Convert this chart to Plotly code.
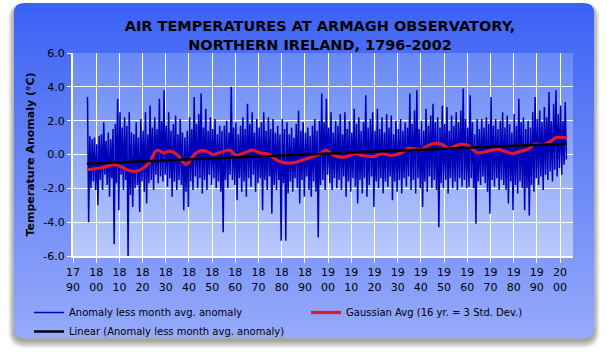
import plotly.graph_objects as go

# ---------------- data ----------------
years = list(range(1796, 2003))

# per-year upper / lower excursion of the monthly anomaly series (deg C)
anomaly_hi = [
    3.4, 1.1, 0.9, 1.0,
    0.6, 1.1, 1.2, 1.9, 0.8, 1.3, 0.9, 1.5, 1.8, 3.3,
    2.5, 1.6, 2.2, 1.7, 2.5, 1.3, 1.2, 1.9, 1.0, 2.1,
    1.4, 2.5, 1.2, 2.9, 1.6, 2.2, 1.5, 3.3, 2.0, 3.8,
    1.7, 2.5, 1.4, 1.8, 2.3, 1.2, 2.1, 1.3, 1.0, 1.4,
    2.2, 1.5, 3.4, 1.8, 2.4, 3.6, 1.6, 2.7, 1.4, 2.2,
    1.5, 2.1, 1.2, 1.7, 1.4, 1.7, 2.0, 1.3, 4.0, 1.6,
    1.9, 1.2, 1.7, 2.2, 1.5, 3.0, 1.8, 2.5, 1.3, 2.1,
    1.6, 1.9, 2.5, 1.4, 2.2, 1.5, 2.1, 1.3, 1.7, 1.2,
    2.1, 1.5, 1.9, 1.2, 1.6, 1.0, 1.8, 2.6, 1.4, 1.9,
    1.3, 1.6, 1.1, 1.7, 2.1, 1.4, 2.0, 3.6, 1.9, 3.3,
    1.6, 2.5, 1.3, 2.0, 1.7, 2.4, 1.2, 2.5, 1.5, 2.0,
    1.3, 2.7, 1.8, 2.2, 1.4, 1.9, 3.5, 1.6, 2.1, 2.5,
    1.4, 2.7, 1.5, 2.2, 1.3, 2.4, 1.6, 2.3, 1.2, 2.0,
    1.5, 2.1, 1.4, 1.9, 1.6, 3.6, 1.8, 2.6, 3.8, 1.5,
    2.0, 1.4, 2.7, 1.7, 2.3, 3.0, 1.9, 2.2, 1.6, 2.9,
    1.8, 2.8, 1.4, 2.3, 1.7, 2.5, 1.9, 2.6, 3.9, 2.1,
    1.6, 3.5, 1.9, 1.2, 2.1, 1.5, 2.1, 1.6, 2.2, 1.8,
    3.4, 1.7, 2.1, 1.5, 2.0, 2.5, 1.6, 2.3, 1.8, 1.3,
    2.4, 1.7, 3.3, 1.9, 2.2, 1.5, 2.0, 1.6, 2.5, 3.4,
    2.1, 2.6, 1.9, 2.8, 2.2, 3.7, 2.0, 3.0, 3.8, 2.4,
    2.9, 2.0, 3.1,
]
anomaly_lo = [
    -4.0, -2.0, -1.6, -2.1,
    -3.0, -1.5, -2.1, -1.2, -1.8, -2.5, -1.4, -5.3, -1.7, -3.3,
    -1.2, -2.1, -1.5, -6.0, -2.4, -3.1, -2.0, -1.8, -3.4, -1.6,
    -2.2, -2.9, -1.7, -1.5, -2.1, -1.2, -1.7, -1.3, -1.6, -1.2,
    -1.9, -1.4, -2.5, -1.6, -2.1, -1.5, -1.8, -3.3, -2.2, -3.1,
    -1.6, -2.1, -1.3, -2.0, -1.4, -2.3, -1.5, -2.1, -1.2, -1.8,
    -1.4, -2.0, -1.6, -2.2, -4.6, -1.5, -2.0, -1.2, -1.5, -1.8,
    -2.7, -1.4, -2.2, -1.6, -2.5, -1.4, -1.9, -1.2, -2.2, -1.7,
    -1.4, -3.3, -1.5, -2.1, -1.3, -3.5, -1.8, -2.1, -1.5, -5.1,
    -1.7, -5.1, -2.3, -1.6, -2.2, -1.4, -2.0, -2.9, -1.5, -2.5,
    -1.3, -2.1, -2.5, -1.6, -2.2, -4.9, -1.8, -1.5, -2.1, -1.2,
    -1.7, -2.1, -1.4, -2.0, -1.5, -2.1, -1.3, -2.5, -1.6, -2.2,
    -1.4, -1.9, -2.9, -1.5, -2.3, -1.4, -2.5, -1.8, -1.3, -3.1,
    -1.6, -2.0, -1.4, -2.3, -1.6, -1.9, -1.3, -2.7, -1.6, -2.2,
    -1.5, -2.3, -1.4, -1.9, -1.3, -2.1, -1.5, -2.3, -1.4, -2.0,
    -3.1, -1.6, -2.2, -1.3, -2.0, -1.5, -2.1, -4.3, -1.7, -2.0,
    -1.5, -2.3, -1.4, -2.0, -1.6, -2.1, -1.4, -1.9, -1.5, -2.0,
    -1.9, -1.4, -2.0, -4.1, -1.6, -1.8, -1.3, -1.7, -2.2, -3.5,
    -1.5, -1.9, -1.4, -2.1, -1.5, -1.8, -2.1, -2.9, -1.6, -3.3,
    -1.8, -2.3, -1.6, -2.0, -3.3, -2.0, -3.6, -1.8, -2.2, -1.4,
    -1.8, -1.3, -2.1, -1.2, -1.5, -1.0, -1.6, -0.9, -1.3, -0.8,
    -1.2, -0.6, -0.3,
]

gauss_years = [1796.0, 1799.0, 1801.7, 1804.5, 1807.5, 1810.3, 1813.2, 1816.8,
               1820.4, 1823.3, 1825.4, 1827.0, 1829.0, 1831.9, 1834.8, 1836.8,
               1838.8, 1841.7, 1844.5, 1847.4, 1850.3, 1853.2, 1857.5, 1860.4,
               1863.2, 1867.6, 1870.4, 1874.7, 1877.4, 1880.3, 1884.6, 1887.5,
               1891.8, 1896.1, 1899.0, 1901.9, 1904.7, 1907.6, 1911.9, 1914.8,
               1919.7, 1923.1, 1927.4, 1931.7, 1934.6, 1937.5, 1940.4, 1943.3,
               1946.1, 1949.0, 1951.9, 1954.8, 1957.6, 1961.0, 1962.4, 1964.5,
               1968.8, 1973.2, 1976.0, 1979.6, 1983.2, 1986.1, 1989.0, 1993.3,
               1996.2, 1998.3, 2001.9, 2002.9]
gauss_vals = [-0.90, -0.85, -0.80, -0.70, -0.60, -0.70, -0.90, -1.00,
              -0.80, -0.40, 0.15, 0.25, 0.10, 0.20, 0.00, -0.30,
              -0.60, -0.10, 0.20, 0.20, 0.00, 0.10, 0.26, -0.05,
              0.06, 0.26, 0.10, 0.00, -0.30, -0.46, -0.50, -0.40,
              -0.20, 0.00, 0.26, 0.00, -0.14, -0.14, 0.06, -0.06,
              -0.12, 0.06, -0.06, 0.10, 0.36, 0.34, 0.30, 0.54,
              0.66, 0.60, 0.36, 0.50, 0.60, 0.50, 0.30, 0.10,
              0.20, 0.30, 0.20, 0.06, 0.20, 0.30, 0.60, 0.60,
              0.80, 1.00, 1.00, 0.95]

trend_years = [1796.0, 2002.9]
trend_vals = [-0.54, 0.64]

decades = list(range(1790, 2001, 10))
x_tick_text = [f"{str(d)[:2]}<br>{str(d)[2:]}" for d in decades]
y_ticks = [-6, -4, -2, 0, 2, 4, 6]
y_tick_text = ["-6.0", "-4.0", "-2.0", "0.0", "2.0", "4.0", "6.0"]

# ---------------- build monthly-like series ----------------
blue_x, blue_y = [], []
for yr, h, l in zip(years, anomaly_hi, anomaly_lo):
    blue_x += [yr + 0.25, yr + 0.75]
    blue_y += [h, l]

# ---------------- geometry ----------------
W, H = 607, 352
L, R, T, B = 73, 573, 53, 256
PW, PH = R - L, B - T


def P(x, y):
    return f"{(x - L) / PW:.5f},{(B - y) / PH:.5f}"


def rrect(x0, y0, x1, y1, rt, rb):
    return (f"M{P(x0 + rt, y0)} L{P(x1 - rt, y0)} Q{P(x1, y0)} {P(x1, y0 + rt)} "
            f"L{P(x1, y1 - rb)} Q{P(x1, y1)} {P(x1 - rb, y1)} "
            f"L{P(x0 + rb, y1)} Q{P(x0, y1)} {P(x0, y1 - rb)} "
            f"L{P(x0, y0 + rt)} Q{P(x0, y0)} {P(x0 + rt, y0)} Z")


def lerp(c0, c1, t):
    return "rgb(%d,%d,%d)" % tuple(round(a + (b - a) * t) for a, b in zip(c0, c1))


shapes = []
px0, py0, px1, py1, rad = 14, 3, 594, 338, 10
# drop shadow
for i in range(8):
    shapes.append(dict(type="path", xref="paper", yref="paper", layer="below",
                       path=rrect(px0 - i * 0.8, py0 + 2 - i * 0.3, px1 + i * 0.8, py1 + 3 + i * 1.0, rad + i, rad + i),
                       fillcolor="rgba(0,0,0,0.05)", line=dict(width=0)))
panel_top, panel_bot = (60, 98, 244), (150, 170, 250)
shapes.append(dict(type="path", xref="paper", yref="paper", layer="below",
                   path=rrect(px0, py0, px1, py0 + rad + 2, rad, 0),
                   fillcolor=lerp(panel_top, panel_bot, 0), line=dict(width=0)))
shapes.append(dict(type="path", xref="paper", yref="paper", layer="below",
                   path=rrect(px0, py1 - rad - 2, px1, py1, 0, rad),
                   fillcolor=lerp(panel_top, panel_bot, 1), line=dict(width=0)))
step = 2
y = py0 + rad
while y < py1 - rad:
    t = (y - py0) / (py1 - py0)
    shapes.append(dict(type="rect", xref="paper", yref="paper", layer="below",
                       x0=(px0 - L) / PW, x1=(px1 - L) / PW,
                       y0=(B - y) / PH, y1=(B - min(y + step + 0.5, py1 - rad)) / PH,
                       fillcolor=lerp(panel_top, panel_bot, t), line=dict(width=0)))
    y += step
plot_top, plot_bot = (104, 137, 246), (186, 202, 252)
y = T
while y < B:
    t = (y - T) / (B - T)
    shapes.append(dict(type="rect", xref="paper", yref="paper", layer="below",
                       x0=0, x1=1, y0=(B - y) / PH, y1=(B - min(y + step + 0.5, B)) / PH,
                       fillcolor=lerp(plot_top, plot_bot, t), line=dict(width=0)))
    y += step

# ---------------- figure ----------------
fig = go.Figure()
fig.add_trace(go.Scatter(x=blue_x, y=blue_y, mode="lines",
                         line=dict(color="#0000b8", width=1.5),
                         name="Anomaly less month avg. anomaly"))
fig.add_trace(go.Scatter(x=gauss_years, y=gauss_vals, mode="lines",
                         line=dict(color="#e0182c", width=3.2, shape="spline", smoothing=1.0),
                         name="Gaussian Avg (16 yr. = 3 Std. Dev.)"))
fig.add_trace(go.Scatter(x=trend_years, y=trend_vals, mode="lines",
                         line=dict(color="#000000", width=2.5),
                         name="Linear (Anomaly less month avg. anomaly)"))

font_family = "DejaVu Sans, Verdana, sans-serif"
fig.update_layout(
    width=W, height=H,
    margin=dict(l=L, r=W - R, t=T, b=H - B, autoexpand=False),
    paper_bgcolor="white", plot_bgcolor="rgba(0,0,0,0)",
    shapes=shapes,
    font=dict(family=font_family, size=11, color="black"),
    title=dict(text="AIR TEMPERATURES AT ARMAGH OBSERVATORY,<br>NORTHERN IRELAND, 1796-2002",
               x=(320 - L) / PW, xref="paper", xanchor="center",
               y=1 - 31 / H, yref="container", yanchor="top",
               font=dict(family=font_family, size=14.5, color="black", weight="bold")),
    showlegend=True,
    legend=dict(orientation="h", x=(29 - L) / PW, xanchor="left",
                y=(B - 298) / PH, yanchor="top",
                entrywidth=232, traceorder="normal",
                bgcolor="rgba(0,0,0,0)", borderwidth=0,
                font=dict(family=font_family, size=10, color="black")),
    xaxis=dict(range=[1790, 2005.6], tickmode="array", tickvals=decades, ticktext=x_tick_text,
               showgrid=True, gridcolor="white", gridwidth=1,
               showline=True, linecolor="white", linewidth=2,
               ticks="outside", ticklen=5, tickcolor="white", tickwidth=1,
               tickfont=dict(size=11, color="black"), zeroline=False, fixedrange=True),
    yaxis=dict(range=[-6, 6], tickmode="array", tickvals=y_ticks, ticktext=y_tick_text,
               showgrid=True, gridcolor="white", gridwidth=1,
               showline=True, linecolor="white", linewidth=2,
               ticks="outside", ticklen=4, tickcolor="white", tickwidth=1,
               tickfont=dict(size=11, color="black"), zeroline=False,
               title=dict(text="Temperature Anomaly (°C)", standoff=6,
                          font=dict(family=font_family, size=11, color="black", weight="bold")),
               fixedrange=True),
)

fig.write_html("out.html")
